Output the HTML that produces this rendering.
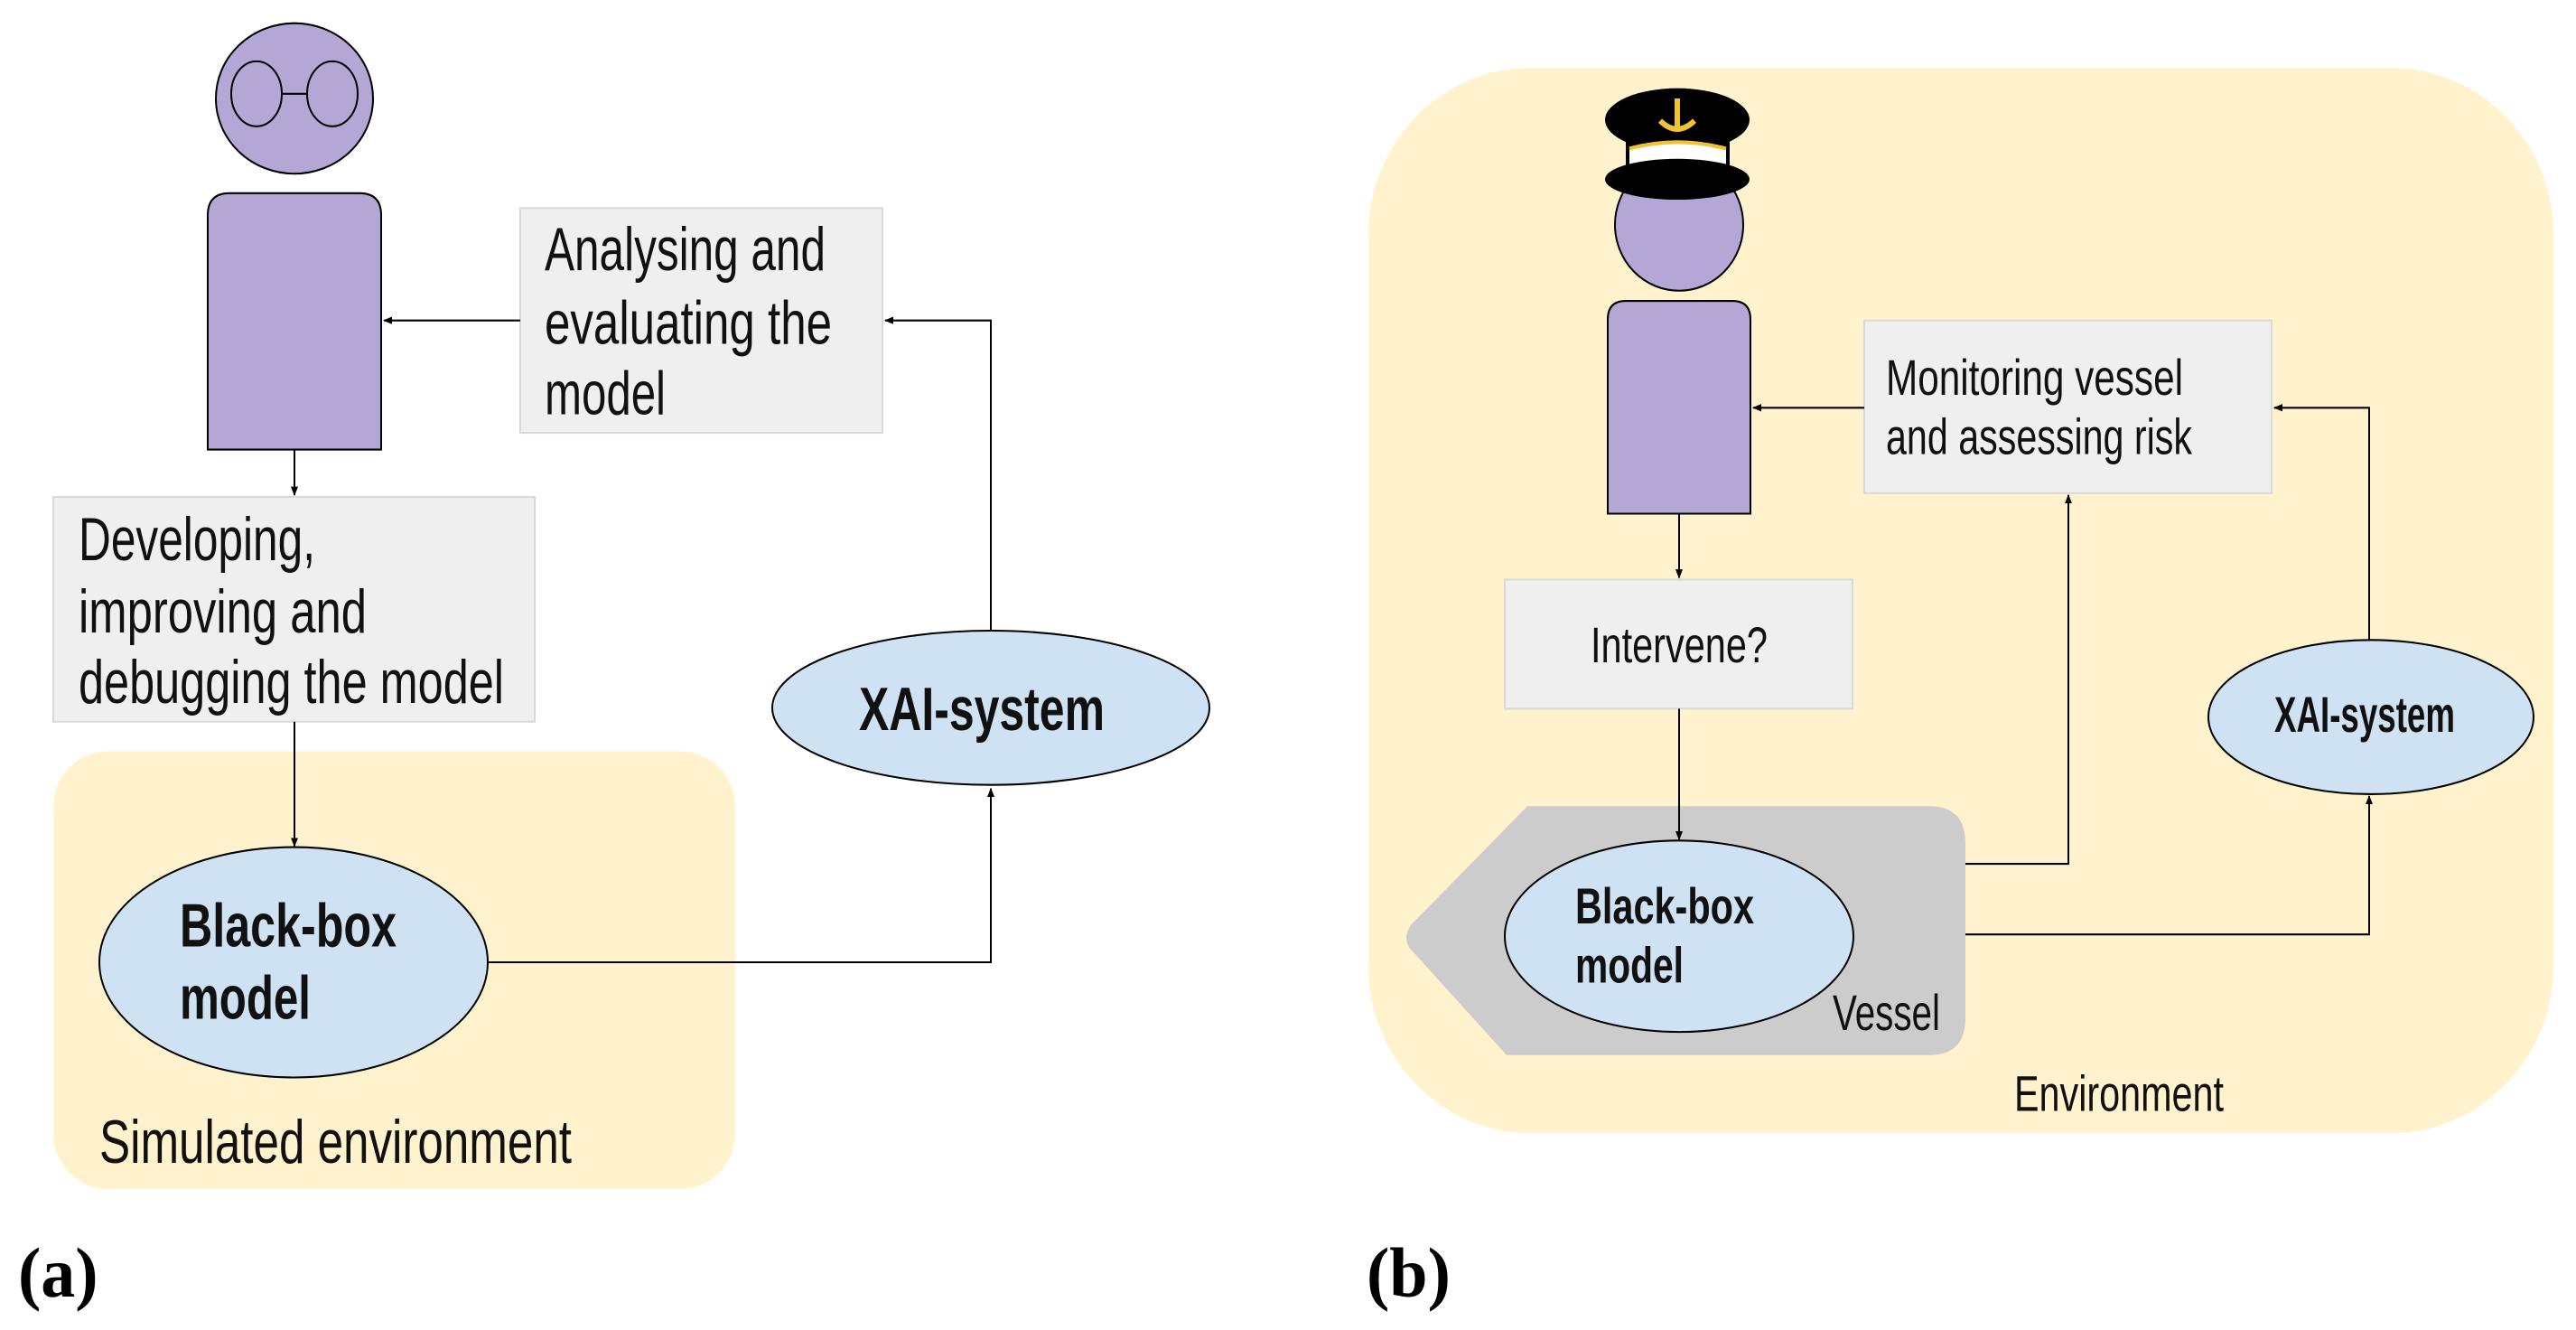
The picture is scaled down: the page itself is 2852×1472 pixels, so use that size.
<!DOCTYPE html>
<html><head><meta charset="utf-8"><style>html,body{margin:0;padding:0;background:#fff}svg{display:block}</style></head>
<body>
<svg width="2852" height="1472" viewBox="0 0 2852 1472" xmlns="http://www.w3.org/2000/svg" font-family="'Liberation Sans', sans-serif">
<defs>
<marker id="ar" markerWidth="10" markerHeight="10" refX="9" refY="5" orient="auto" markerUnits="userSpaceOnUse">
<path d="M0,1 L10,5 L0,9 Z" fill="#000"/></marker>
</defs>
<g transform="scale(1,1.028)">
<!-- LEFT PANEL -->
<rect x="59" y="809" width="755" height="471" rx="60" fill="#fff2cc"/>
<ellipse cx="326" cy="106" rx="87" ry="81" fill="#b4a7d6" stroke="#000" stroke-width="2"/>
<ellipse cx="284" cy="101" rx="28" ry="35" fill="none" stroke="#000" stroke-width="2"/>
<ellipse cx="368" cy="101" rx="28" ry="35" fill="none" stroke="#000" stroke-width="2"/>
<line x1="312" y1="101" x2="340" y2="101" stroke="#000" stroke-width="2"/>
<path d="M230,484 V232 Q230,208 254,208 H398 Q422,208 422,232 V484 Z" fill="#b4a7d6" stroke="#000" stroke-width="2"/>
<rect x="576" y="224" width="401" height="242" fill="#efefef" stroke="#d9d9d9" stroke-width="2"/>
<rect x="59" y="535" width="533" height="242" fill="#efefef" stroke="#d9d9d9" stroke-width="2"/>
<ellipse cx="325" cy="1036" rx="215" ry="124" fill="#cfe2f3" stroke="#000" stroke-width="2"/>
<ellipse cx="1097" cy="762" rx="242" ry="83" fill="#cfe2f3" stroke="#000" stroke-width="2"/>
<g stroke="#000" stroke-width="2" fill="none">
<line x1="576" y1="345" x2="425" y2="345" marker-end="url(#ar)"/>
<polyline points="1097,679 1097,345 980,345" marker-end="url(#ar)"/>
<line x1="326" y1="484" x2="326" y2="533" marker-end="url(#ar)"/>
<line x1="326" y1="777" x2="326" y2="911" marker-end="url(#ar)"/>
<polyline points="540,1036 1097,1036 1097,849" marker-end="url(#ar)"/>
</g>
<g font-size="66" fill="#111">
<text x="603" y="291" textLength="311" lengthAdjust="spacingAndGlyphs">Analysing and</text>
<text x="603" y="370" textLength="318" lengthAdjust="spacingAndGlyphs">evaluating the</text>
<text x="603" y="446" textLength="134" lengthAdjust="spacingAndGlyphs">model</text>
<text x="87" y="603" textLength="262" lengthAdjust="spacingAndGlyphs">Developing,</text>
<text x="87" y="681" textLength="319" lengthAdjust="spacingAndGlyphs">improving and</text>
<text x="87" y="757" textLength="471" lengthAdjust="spacingAndGlyphs">debugging the model</text>
<text x="110" y="1252" textLength="523" lengthAdjust="spacingAndGlyphs">Simulated environment</text>
<text x="199" y="1019" font-weight="bold" textLength="240" lengthAdjust="spacingAndGlyphs">Black-box</text>
<text x="199" y="1097" font-weight="bold" textLength="145" lengthAdjust="spacingAndGlyphs">model</text>
<text x="951" y="786" font-weight="bold" textLength="272" lengthAdjust="spacingAndGlyphs">XAI-system</text>
</g>
<text x="20" y="1396" font-family="'Liberation Serif', serif" font-size="76" font-weight="bold">(a)</text>
<!-- RIGHT PANEL -->
<rect x="1515" y="73" width="1312" height="1147" rx="180" fill="#fff2cc"/>
<path d="M1691,868 H2136 Q2176,868 2176,908 V1096 Q2176,1136 2136,1136 H1668 L1560,1020 Q1552,1005 1566,992 Z" fill="#cccccc"/>
<circle cx="1859" cy="242" r="71" fill="#b4a7d6" stroke="#000" stroke-width="2"/>
<ellipse cx="1857" cy="129" rx="80" ry="34" fill="#000"/>
<rect x="1800" y="150" width="115" height="30" fill="#000"/>
<path d="M1804,160 Q1857,146 1911,160 V178 H1804 Z" fill="#fff"/>
<path d="M1804,160 Q1857,146 1911,160" fill="none" stroke="#f1c232" stroke-width="4"/>
<ellipse cx="1857" cy="193" rx="80" ry="22" fill="#000"/>
<line x1="1857" y1="106" x2="1857" y2="138" stroke="#f1c232" stroke-width="6"/>
<path d="M1838,130 Q1857,148 1876,130" fill="none" stroke="#f1c232" stroke-width="6"/>
<path d="M1780,553 V344 Q1780,324 1800,324 H1918 Q1938,324 1938,344 V553 Z" fill="#b4a7d6" stroke="#000" stroke-width="2"/>
<rect x="2064" y="345" width="451" height="186" fill="#efefef" stroke="#d9d9d9" stroke-width="2"/>
<rect x="1666" y="624" width="385" height="139" fill="#efefef" stroke="#d9d9d9" stroke-width="2"/>
<ellipse cx="1859" cy="1008" rx="193" ry="103" fill="#cfe2f3" stroke="#000" stroke-width="2"/>
<ellipse cx="2625" cy="772" rx="180" ry="83" fill="#cfe2f3" stroke="#000" stroke-width="2"/>
<g stroke="#000" stroke-width="2" fill="none">
<line x1="2064" y1="439" x2="1941" y2="439" marker-end="url(#ar)"/>
<polyline points="2623,690 2623,439 2518,439" marker-end="url(#ar)"/>
<line x1="1859" y1="553" x2="1859" y2="622" marker-end="url(#ar)"/>
<line x1="1859" y1="763" x2="1859" y2="904" marker-end="url(#ar)"/>
<polyline points="2176,930 2290,930 2290,533" marker-end="url(#ar)"/>
<polyline points="2176,1006 2623,1006 2623,857" marker-end="url(#ar)"/>
</g>
<g font-size="54" fill="#111">
<text x="2088" y="425" textLength="329" lengthAdjust="spacingAndGlyphs">Monitoring vessel</text>
<text x="2088" y="489" textLength="339" lengthAdjust="spacingAndGlyphs">and assessing risk</text>
<text x="1761" y="713" textLength="196" lengthAdjust="spacingAndGlyphs">Intervene?</text>
<text x="2029" y="1109" textLength="119" lengthAdjust="spacingAndGlyphs">Vessel</text>
<text x="2230" y="1196" textLength="232" lengthAdjust="spacingAndGlyphs">Environment</text>
<text x="1744" y="994" font-weight="bold" textLength="198" lengthAdjust="spacingAndGlyphs">Black-box</text>
<text x="1744" y="1058" font-weight="bold" textLength="120" lengthAdjust="spacingAndGlyphs">model</text>
<text x="2518" y="788" font-weight="bold" textLength="200" lengthAdjust="spacingAndGlyphs">XAI-system</text>
</g>
<text x="1513" y="1396" font-family="'Liberation Serif', serif" font-size="76" font-weight="bold">(b)</text>
</g>
</svg>
</body></html>
